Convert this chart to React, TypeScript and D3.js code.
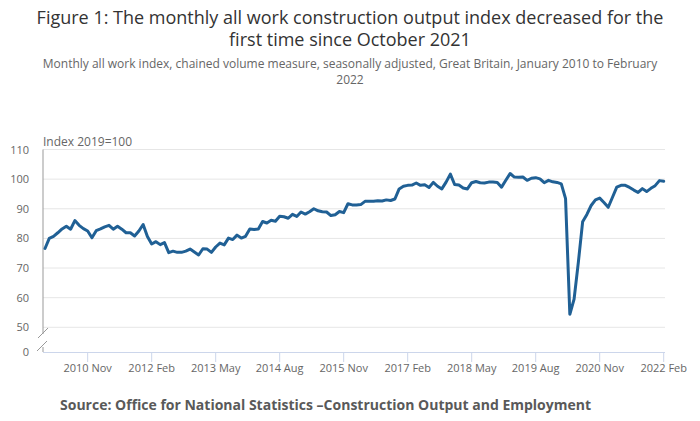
import React, { useEffect } from "react";
import * as d3 from "d3";

const startYear = 2010;
const values: number[] = [
  76.6, 80.0, 80.7, 81.9, 83.2, 84.1, 83.1, 86.0, 84.4, 83.3, 82.5, 80.2,
  82.6, 83.2, 83.9, 84.4, 83.1, 84.1, 83.1, 81.9, 81.9, 80.8, 82.5, 84.7,
  80.6, 78.1, 78.9, 77.9, 78.6, 75.2, 75.7, 75.3, 75.3, 75.7, 76.4, 75.4,
  74.4, 76.5, 76.4, 75.3, 77.1, 78.4, 77.8, 80.1, 79.6, 81.1, 80.1, 80.7,
  83.2, 83.0, 83.2, 85.7, 85.2, 86.1, 85.8, 87.5, 87.3, 86.8, 88.1, 87.4,
  88.9, 88.2, 89.0, 90.0, 89.3, 89.0, 88.9, 87.7, 88.0, 89.1, 88.7, 91.7,
  91.3, 91.3, 91.4, 92.5, 92.5, 92.5, 92.7, 92.6, 93.0, 92.8, 93.3, 96.7,
  97.6, 97.9, 98.0, 98.7, 97.9, 98.1, 97.2, 98.9, 97.6, 96.7, 99.0, 101.7,
  98.2, 98.0, 97.0, 96.7, 98.8, 99.2, 98.8, 98.7, 99.0, 99.0, 98.9, 97.3,
  99.6, 101.9, 100.7, 100.6, 100.7, 99.6, 100.3, 100.5, 100.1, 98.8, 99.6, 99.1,
  98.9, 98.4, 93.4, 54.4, 59.5, 72.0, 85.6, 88.1, 91.1, 93.0, 93.6, 92.1,
  90.5, 93.9, 97.3, 97.9, 97.9, 97.2, 96.3, 95.5, 96.8, 95.8, 96.9, 97.8,
  99.5, 99.3,
];
const tickLabels: string[] = [
  "2010 Nov", "2012 Feb", "2013 May", "2014 Aug", "2015 Nov",
  "2017 Feb", "2018 May", "2019 Aug", "2020 Nov", "2022 Feb",
];
const yTicks: number[] = [0, 50, 60, 70, 80, 90, 100, 110];
const monthNames = ["Jan", "Feb", "Mar", "Apr", "May", "Jun", "Jul", "Aug", "Sep", "Oct", "Nov", "Dec"];

const titleLines = [
  "Figure 1: The monthly all work construction output index decreased for the",
  "first time since October 2021",
];
const subtitleLines = [
  "Monthly all work index, chained volume measure, seasonally adjusted, Great Britain, January 2010 to February",
  "2022",
];
const sourceText = "Source: Office for National Statistics \u2013Construction Output and Employment";

const FONT = "'Open Sans', sans-serif";

function labelToIndex(lbl: string): number {
  const [y, m] = lbl.split(" ");
  return (parseInt(y, 10) - startYear) * 12 + monthNames.indexOf(m);
}

export default function App() {
  useEffect(() => {
    document.body.style.margin = "0";
  }, []);

  const plotLeft = 43;
  const plotRight = 665;
  const x = d3.scaleLinear().domain([0, values.length - 1]).range([45, 663.7]);
  const y = d3.scaleLinear().domain([0, 50, 110]).range([352, 327.3, 149.5]);

  const line = d3
    .line<number>()
    .x((_, i) => x(i))
    .y((d) => y(d));

  const breakY1 = 334;
  const breakY2 = 345;

  return (
    <svg width={700} height={421} style={{ position: "absolute", left: 0, top: 0, fontFamily: FONT }}>
      <rect x={0} y={0} width={700} height={421} fill="#fff" />
      {titleLines.map((t, i) => (
        <text key={t} x={350} y={24 + i * 22} textAnchor="middle" fontSize={18} fill="#333">
          {t}
        </text>
      ))}
      {subtitleLines.map((t, i) => (
        <text key={t} x={350} y={68 + i * 16} textAnchor="middle" fontSize={12} fill="#666">
          {t}
        </text>
      ))}
      {yTicks
        .filter((t) => t >= 50)
        .map((t) => (
          <line key={"g" + t} x1={plotLeft} x2={plotRight} y1={y(t)} y2={y(t)} stroke="#e6e6e6" strokeWidth={1} />
        ))}
      {yTicks.map((t) => (
        <text key={"yl" + t} x={29} y={y(t) + 4} textAnchor="end" fontSize={11} fill="#666">
          {t}
        </text>
      ))}
      <text x={43} y={146} fontSize={12} fill="#666">
        Index 2019=100
      </text>
      <line x1={plotLeft} x2={plotLeft} y1={149.5} y2={breakY1} stroke="#999" strokeWidth={1} />
      <line x1={plotLeft} x2={plotLeft} y1={breakY2 + 2} y2={352} stroke="#999" strokeWidth={1} />
      <line x1={38} x2={48} y1={breakY1 + 4} y2={breakY1 - 6} stroke="#999" strokeWidth={1} />
      <line x1={37} x2={47} y1={breakY2 + 6} y2={breakY2 - 4} stroke="#999" strokeWidth={1} />
      <line x1={plotLeft} x2={plotRight} y1={352.5} y2={352.5} stroke="#ccd6eb" strokeWidth={1} />
      {tickLabels.map((lbl) => {
        const xi = x(labelToIndex(lbl));
        return (
          <g key={lbl}>
            <line x1={xi} x2={xi} y1={352.5} y2={362} stroke="#ccd6eb" strokeWidth={1} />
            <text x={xi} y={372} textAnchor="middle" fontSize={11} fill="#666">
              {lbl}
            </text>
          </g>
        );
      })}
      <path d={line(values) || ""} fill="none" stroke="#206095" strokeWidth={3} strokeLinejoin="round" strokeLinecap="round" />
      <text x={60} y={410} fontSize={14} fontWeight="bold" fill="#595959">
        {sourceText}
      </text>
    </svg>
  );
}
